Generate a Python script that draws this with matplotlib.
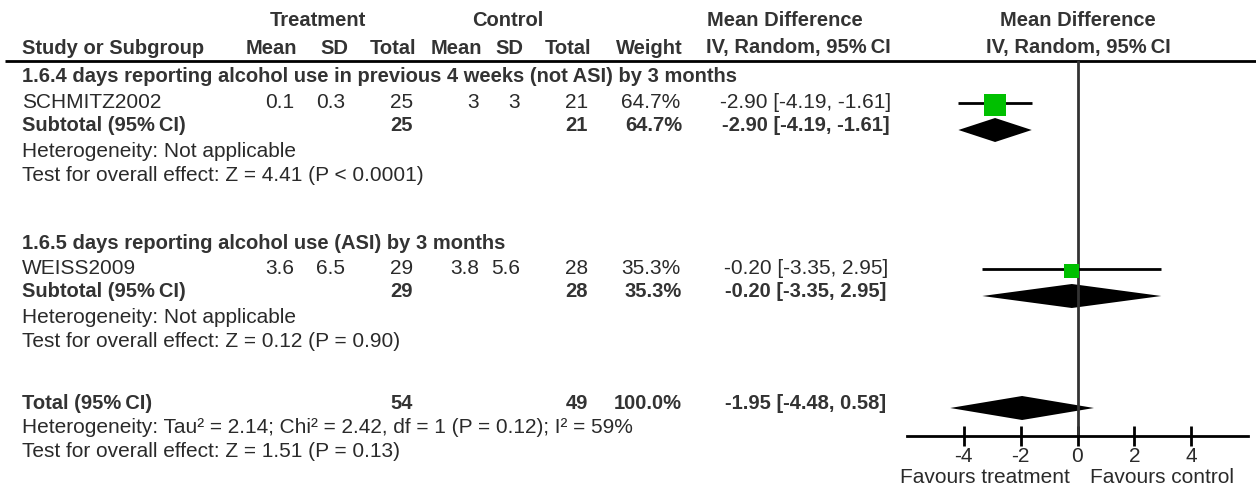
import matplotlib
matplotlib.use("Agg")
import matplotlib.pyplot as plt
from matplotlib.patches import Rectangle, Polygon

plt.rcParams['font.family'] = ['Liberation Sans', 'DejaVu Sans']

# data
studies = ["SCHMITZ2002", "WEISS2009"]
t_mean = [0.1, 3.6]
t_sd = [0.3, 6.5]
t_n = [25, 29]
c_mean = [3, 3.8]
c_sd = [3, 5.6]
c_n = [21, 28]
weights = [64.7, 35.3]
md = [-2.90, -0.20]
ci_lo = [-4.19, -3.35]
ci_hi = [-1.61, 2.95]

subgroups = ["1.6.4 days reporting alcohol use in previous 4 weeks (not ASI) by 3 months",
             "1.6.5 days reporting alcohol use (ASI) by 3 months"]
sub_het = ["Heterogeneity: Not applicable", "Heterogeneity: Not applicable"]
sub_test = ["Test for overall effect: Z = 4.41 (P < 0.0001)",
            "Test for overall effect: Z = 0.12 (P = 0.90)"]

tot_n = [54, 49]
tot_weight = 100.0
tot_md = [-1.95, -4.48, 0.58]
tot_het = "Heterogeneity: Tau² = 2.14; Chi² = 2.42, df = 1 (P = 0.12); I² = 59%"
tot_test = "Test for overall effect: Z = 1.51 (P = 0.13)"

xticks = [-4, -2, 0, 2, 4]
xlim = (-6, 6)

# layout (pixels)
W, H = 1256, 486
fs, fs_b = 15, 14.5
txt = '#2a2a2a'
txt_b = '#333333'
green = '#00C000'
col_x = [22, 294, 345, 413, 479, 520, 588, 680, 806]   # study, tM, tSD, tN, cM, cSD, cN, weight, CI(center)
sec_rows = [[77, 102, 125, 151, 175], [243, 268, 291, 317, 341]]
tot_rows = [403, 427, 451]
plot_left, plot_right = 907, 1248
line_y, axis_y = 61, 436
CI = "95%\u2009CI"

fig = plt.figure(figsize=(W / 100, H / 100), dpi=100)
ax = fig.add_axes([0, 0, 1, 1])
ax.set_xlim(0, W)
ax.set_ylim(H, 0)
ax.axis('off')


def t(x, y, s, ha='left', bold=False):
    ax.text(x, y, s, ha=ha, va='center', fontsize=fs_b if bold else fs,
            color=txt_b if bold else txt, fontweight='bold' if bold else 'normal')


def ci_str(m, lo, hi):
    return f"{m:.2f} [{lo:.2f}, {hi:.2f}]"


# headers
t(318, 20, "Treatment", ha='center', bold=True)
t(508, 20, "Control", ha='center', bold=True)
t(785, 20, "Mean Difference", ha='center', bold=True)
t(1078, 20, "Mean Difference", ha='center', bold=True)
t(col_x[0], 48, "Study or Subgroup", bold=True)
for x, s in zip(col_x[1:8], ["Mean", "SD", "Total", "Mean", "SD", "Total", "Weight"]):
    t(x + 3, 48, s, ha='right', bold=True)
t(798, 48, "IV, Random, " + CI, ha='center', bold=True)
t(1078, 48, "IV, Random, " + CI, ha='center', bold=True)
ax.plot([5, W], [line_y, line_y], color='black', lw=2, solid_capstyle='butt')

# forest axes
fax = fig.add_axes([plot_left / W, (H - axis_y) / H, (plot_right - plot_left) / W, (axis_y - line_y) / H])
fax.set_xlim(*xlim)
fax.set_ylim(axis_y, line_y)
fax.patch.set_alpha(0)
for sp in ['top', 'left', 'right']:
    fax.spines[sp].set_visible(False)
fax.spines['bottom'].set_linewidth(2)
fax.set_yticks([])
fax.set_xticks(xticks)
fax.set_xticklabels([str(v) for v in xticks])
fax.tick_params(axis='x', direction='inout', length=14, width=2, labelsize=fs, pad=1,
                colors='black', labelcolor=txt)
fax.axvline(0, color='#333333', lw=2)
px_per_unit = (plot_right - plot_left) / (xlim[1] - xlim[0])


def diamond(m, lo, hi, y, h=24):
    fax.add_patch(Polygon([(lo, y), (m, y - h / 2), (hi, y), (m, y + h / 2)],
                          closed=True, color='black', lw=0))


for i in range(len(studies)):
    rows = sec_rows[i]
    t(col_x[0], rows[0], subgroups[i], bold=True)
    y = rows[1]
    t(col_x[0], y, studies[i])
    vals = [f"{t_mean[i]:g}", f"{t_sd[i]:g}", str(t_n[i]),
            f"{c_mean[i]:g}", f"{c_sd[i]:g}", str(c_n[i]), f"{weights[i]:.1f}%"]
    for x, s in zip(col_x[1:8], vals):
        t(x, y, s, ha='right')
    t(col_x[8], y, ci_str(md[i], ci_lo[i], ci_hi[i]), ha='center')
    # subtotal
    ys = rows[2]
    t(col_x[0], ys, "Subtotal (" + CI + ")", bold=True)
    t(col_x[3], ys, str(t_n[i]), ha='right', bold=True)
    t(col_x[6], ys, str(c_n[i]), ha='right', bold=True)
    t(col_x[7] + 2, ys, f"{weights[i]:.1f}%", ha='right', bold=True)
    t(col_x[8], ys, ci_str(md[i], ci_lo[i], ci_hi[i]), ha='center', bold=True)
    t(col_x[0], rows[3], sub_het[i])
    t(col_x[0], rows[4], sub_test[i])
    # forest marks
    fax.plot([ci_lo[i], ci_hi[i]], [y + 1, y + 1], color='black', lw=2, solid_capstyle='butt')
    side = 6 + 0.25 * weights[i]
    fax.add_patch(Rectangle((md[i] - side / 2 / px_per_unit, y + 3 - side / 2),
                            side / px_per_unit, side, color=green, lw=0, zorder=3))
    diamond(md[i], ci_lo[i], ci_hi[i], ys + 5)

# total
t(col_x[0], tot_rows[0], "Total (" + CI + ")", bold=True)
t(col_x[3], tot_rows[0], str(tot_n[0]), ha='right', bold=True)
t(col_x[6], tot_rows[0], str(tot_n[1]), ha='right', bold=True)
t(col_x[7] + 2, tot_rows[0], f"{tot_weight:.1f}%", ha='right', bold=True)
t(col_x[8], tot_rows[0], ci_str(*tot_md), ha='center', bold=True)
t(col_x[0], tot_rows[1], tot_het)
t(col_x[0], tot_rows[2], tot_test)
diamond(tot_md[0], tot_md[1], tot_md[2], tot_rows[0] + 5)

t(1070, 477, "Favours treatment", ha='right')
t(1090, 477, "Favours control", ha='left')

fig.savefig("out.png", dpi=100)
